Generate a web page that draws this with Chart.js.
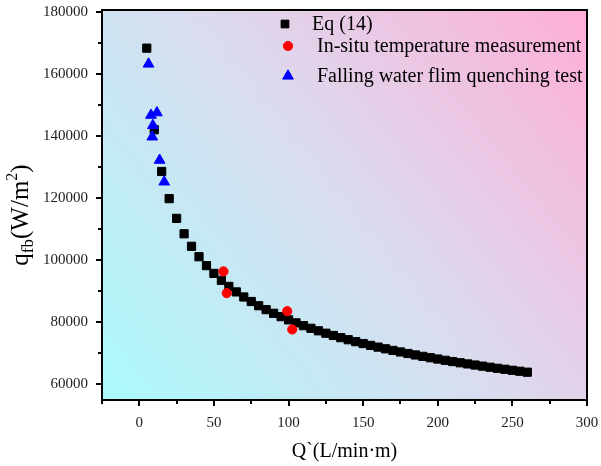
<!DOCTYPE html>
<html>
<head>
<meta charset="utf-8">
<script src="https://cdn.jsdelivr.net/npm/chart.js@4/dist/chart.umd.min.js"></script>
<style>
  html, body { margin: 0; padding: 0; background: #ffffff; }
  #wrap { width: 601px; height: 466px; }
</style>
</head>
<body>
<div id="wrap"><canvas id="c" width="601" height="466"></canvas></div>
<script>
// Eq (14): flow rate per unit width Q` (L/min·m) and heat flux q_fb (W/m²)
const eqQ = [5, 10, 15, 20, 25, 30, 35, 40, 45, 50, 55, 60, 65, 70, 75, 80, 85, 90, 95, 100,
  105, 110, 115, 120, 125, 130, 135, 140, 145, 150, 155, 160, 165, 170, 175, 180, 185, 190, 195, 200,
  205, 210, 215, 220, 225, 230, 235, 240, 245, 250, 255, 260];
const eqQfb = [168400, 142100, 128660, 119900, 113540, 108570, 104540, 101170, 98300, 95800,
  93580, 91610, 89840, 88210, 86740, 85380, 84120, 82950, 81860, 80830,
  79870, 78960, 78110, 77300, 76530, 75800, 75100, 74430, 73800, 73190,
  72600, 72040, 71500, 70980, 70480, 69990, 69520, 69060, 68620, 68200,
  67790, 67390, 67000, 66630, 66270, 65910, 65560, 65220, 64900, 64580, 64270, 63960];

// In-situ temperature measurement
const insituQ = [56.4, 58.6, 99.1, 102.5];
const insituQfb = [96450, 89450, 83640, 77740];

// Falling water film quenching test
const fallingQ = [6.2, 7.8, 11.8, 9.1, 8.7, 13.6, 16.7];
const fallingQfb = [163300, 146800, 147600, 143500, 139800, 132300, 125300];

// Axis ticks
const xTicks = [0, 50, 100, 150, 200, 250, 300];
const xMinorTicks = [-25, 25, 75, 125, 175, 225, 275];
const yTicks = [60000, 80000, 100000, 120000, 140000, 160000, 180000];
const yMinorTicks = [70000, 90000, 110000, 130000, 150000, 170000];

const seriesNames = ['Eq (14)', 'In-situ temperature measurement', 'Falling water flim quenching test'];

const toPoints = (xs, ys) => xs.map((x, i) => ({ x: x, y: ys[i] }));
const SERIF = "'Liberation Serif', 'Times New Roman', serif";

// Gradient fill of the plotting area, cyan lower-left to pink upper-right
const areaBackground = {
  id: 'areaBackground',
  beforeDraw(chart) {
    const { ctx, chartArea: a } = chart;
    const g = ctx.createLinearGradient(a.left, a.bottom, a.right, a.top);
    g.addColorStop(0, '#aafafc');
    g.addColorStop(0.5, '#dadcee');
    g.addColorStop(1, '#ffaed8');
    ctx.save();
    ctx.fillStyle = g;
    ctx.fillRect(a.left, a.top, a.right - a.left, a.bottom - a.top);
    ctx.restore();
  }
};

// Frame, outward ticks, axis titles and legend
const decorations = {
  id: 'decorations',
  afterDraw(chart) {
    const { ctx, chartArea: a, scales } = chart;
    const xs = scales.x, ys = scales.y;
    ctx.save();
    ctx.strokeStyle = '#000';
    ctx.lineWidth = 2;
    ctx.strokeRect(a.left, a.top, a.right - a.left, a.bottom - a.top);

    ctx.beginPath();
    xTicks.forEach(v => { const p = Math.round(xs.getPixelForValue(v)); ctx.moveTo(p, a.bottom); ctx.lineTo(p, a.bottom + 6); });
    xMinorTicks.forEach(v => { const p = Math.round(xs.getPixelForValue(v)); ctx.moveTo(p, a.bottom); ctx.lineTo(p, a.bottom + 4); });
    yTicks.forEach(v => { const p = Math.round(ys.getPixelForValue(v)); ctx.moveTo(a.left, p); ctx.lineTo(a.left - 6, p); });
    yMinorTicks.forEach(v => { const p = Math.round(ys.getPixelForValue(v)); ctx.moveTo(a.left, p); ctx.lineTo(a.left - 4, p); });
    ctx.stroke();

    // x title
    ctx.fillStyle = '#000';
    ctx.font = '20px ' + SERIF;
    ctx.textAlign = 'center';
    ctx.textBaseline = 'middle';
    ctx.fillText('Q`(L/min\u00b7m)', (a.left + a.right) / 2, 452);

    // y title with subscript and superscript
    ctx.save();
    ctx.translate(22, 215);
    ctx.rotate(-Math.PI / 2);
    ctx.textBaseline = 'alphabetic';
    ctx.textAlign = 'left';
    const parts = [
      { t: 'q', size: 25, dy: 0 },
      { t: 'fb', size: 17, dy: 5 },
      { t: '(W/m', size: 25, dy: 0 },
      { t: '2', size: 16, dy: -11 },
      { t: ')', size: 25, dy: 0 }
    ];
    let w = 0;
    parts.forEach(p => { ctx.font = p.size + 'px ' + SERIF; w += ctx.measureText(p.t).width; });
    let x = -w / 2;
    parts.forEach(p => {
      ctx.font = p.size + 'px ' + SERIF;
      ctx.fillText(p.t, x, 6 + p.dy);
      x += ctx.measureText(p.t).width;
    });
    ctx.restore();

    // legend
    const items = [
      { name: seriesNames[0], style: 'rect', color: '#000000', mx: 285, my: 24, tx: 312, r: 5.5 },
      { name: seriesNames[1], style: 'circle', color: '#ff0000', mx: 288, my: 46, tx: 317, r: 4.6 },
      { name: seriesNames[2], style: 'triangle', color: '#0000ff', mx: 288, my: 76, tx: 317, r: 6.2 }
    ];
    ctx.font = '20px ' + SERIF;
    ctx.textAlign = 'left';
    ctx.textBaseline = 'middle';
    items.forEach(it => {
      ctx.fillStyle = it.color;
      ctx.strokeStyle = it.color;
      ctx.lineWidth = 1;
      Chart.helpers.drawPoint(ctx, { pointStyle: it.style, radius: it.r, rotation: 0, borderWidth: 1 }, it.mx, it.my);
      ctx.fillStyle = '#000';
      ctx.fillText(it.name, it.tx, it.my + 1);
    });
    ctx.restore();
  }
};

const noPad = s => { s.paddingTop = 0; s.paddingBottom = 0; s.paddingLeft = 0; s.paddingRight = 0; };

new Chart(document.getElementById('c'), {
  type: 'scatter',
  data: {
    datasets: [
      { label: seriesNames[0], data: toPoints(eqQ, eqQfb), pointStyle: 'rect', pointRadius: 5.8,
        backgroundColor: '#000000', borderColor: '#000000', borderWidth: 1, order: 3 },
      { label: seriesNames[1], data: toPoints(insituQ, insituQfb), pointStyle: 'circle', pointRadius: 4.6,
        backgroundColor: '#ff0000', borderColor: '#ff0000', borderWidth: 1, order: 2 },
      { label: seriesNames[2], data: toPoints(fallingQ, fallingQfb), pointStyle: 'triangle', pointRadius: 6.2,
        backgroundColor: '#0000ff', borderColor: '#0000ff', borderWidth: 1, order: 1 }
    ]
  },
  options: {
    responsive: false,
    animation: false,
    devicePixelRatio: 1,
    layout: { padding: { left: 0, top: 10, right: 14, bottom: 0 } },
    plugins: { legend: { display: false }, tooltip: { enabled: false } },
    scales: {
      x: {
        type: 'linear', min: -25, max: 300,
        afterFit: s => { s.height = 66; noPad(s); },
        afterBuildTicks: s => { s.ticks = xTicks.map(v => ({ value: v })); },
        grid: { display: false, drawTicks: false },
        border: { display: false },
        ticks: { color: '#222', padding: 14, maxRotation: 0, font: { family: SERIF, size: 15 },
                 callback: v => String(v) }
      },
      y: {
        type: 'linear', min: 55000, max: 180700,
        afterFit: s => { s.width = 102; noPad(s); },
        afterBuildTicks: s => { s.ticks = yTicks.map(v => ({ value: v })); },
        grid: { display: false, drawTicks: false },
        border: { display: false },
        ticks: { color: '#222', padding: 14, font: { family: SERIF, size: 15 },
                 callback: v => String(v) }
      }
    }
  },
  plugins: [areaBackground, decorations]
});
</script>
</body>
</html>
